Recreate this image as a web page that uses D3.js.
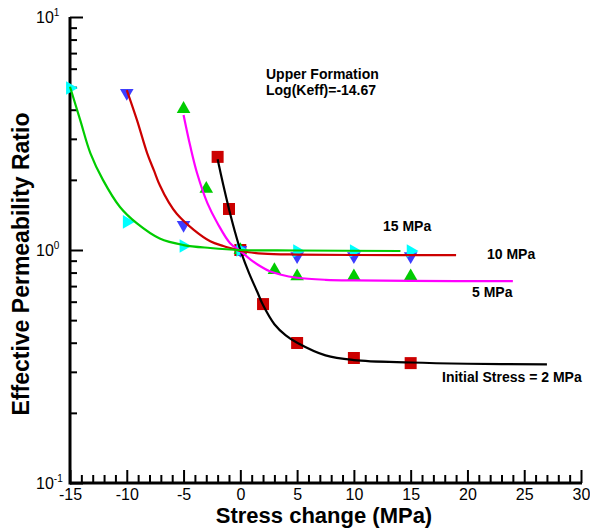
<!DOCTYPE html>
<html>
<head>
<meta charset="utf-8">
<script src="https://cdn.jsdelivr.net/npm/d3@7"></script>
<style>
  body { margin: 0; background: #fff; }
  svg { font-family: "Liberation Sans", Arial, sans-serif; }
  .lbl { font-weight: bold; font-size: 14px; }
  .title { font-weight: bold; font-size: 22px; }
  .tick-label { font-size: 16px; }
</style>
</head>
<body>
<svg width="590" height="529"></svg>
<script>
// tick values
const xTicks = [-15, -10, -5, 0, 5, 10, 15, 20, 25, 30];
const yMajor = [0.1, 1, 10];
const yLabels = ["-1", "0", "1"];

// symbols (stress change, permeability ratio)
const p2X = [-2, -1, 0, 2, 5, 10, 15];
const p2Y = [2.51, 1.5, 1.0, 0.586, 0.399, 0.344, 0.327];
const p5X = [-5, -3, 0, 3, 5, 10, 15];
const p5Y = [4.03, 1.83, 1.0, 0.82, 0.77, 0.77, 0.77];
const p10X = [-10, -5, 0, 5, 10, 15];
const p10Y = [4.72, 1.28, 1.0, 0.94, 0.94, 0.94];
const p15X = [-15, -10, -5, 0, 5, 10, 15];
const p15Y = [4.96, 1.32, 1.04, 1.0, 0.99, 0.99, 0.99];

// fitted curves, points
const c2X = [-2, -1.5, -1, -0.5, 0, 0.75, 1.5, 2, 3, 4, 5, 7.5, 10, 15, 20, 27];
const c2Y = [2.45, 1.9, 1.5, 1.21, 1.0, 0.8, 0.66, 0.58, 0.48, 0.43, 0.4, 0.353, 0.337, 0.329, 0.325, 0.323];
const c5X = [-5, -4.4, -3.8, -2.9, -2, -0.9, 0, 0.9, 1.8, 2.6, 3.5, 5, 7.5, 10, 15, 24];
const c5Y = [3.8, 2.78, 2.13, 1.59, 1.3, 1.07, 0.99, 0.91, 0.85, 0.81, 0.785, 0.76, 0.745, 0.74, 0.737, 0.735];
const c10X = [-10, -9.1, -8.2, -7.6, -7.1, -6.3, -5.6, -4.1, -2.65, -1.5, -0.6, 0, 2, 5, 10, 19];
const c10Y = [4.86, 3.61, 2.6, 2.19, 1.9, 1.6, 1.43, 1.22, 1.09, 1.04, 1.01, 0.99, 0.965, 0.956, 0.952, 0.95];
const c15X = [-15, -14.1, -13.2, -12.1, -10.6, -9.1, -7.1, -5, -2.65, 0, 5, 14.1];
const c15Y = [5.02, 3.61, 2.6, 2.0, 1.53, 1.3, 1.12, 1.05, 1.02, 1.0, 0.995, 0.99];

const svg = d3.select("svg");

const x = d3.scaleLinear().domain([-15, 30]).range([70, 581]);
const y = d3.scaleLog().domain([0.1, 10]).range([483, 17]);

const zip = (xs, ys) => xs.map((v, i) => [v, ys[i]]);

// axes, ticks pointing inwards
const yMinor = [];
[0.1, 1].forEach((d) => { for (let k = 2; k <= 9; k++) yMinor.push(d * k); });
const xMinor = d3.range(-15, 31, 1).filter((d) => d % 5 !== 0);

const styleAxis = (g) => {
  g.attr("font-size", null).attr("font-family", null);
  g.selectAll(".tick line").attr("stroke", "#000").attr("stroke-width", 2);
  g.select(".domain").remove();
};

svg.append("g")
  .attr("transform", "translate(0,483)")
  .call(d3.axisBottom(x).tickValues(xMinor).tickSize(-8).tickFormat(""))
  .call(styleAxis);
svg.append("g")
  .attr("transform", "translate(0,483)")
  .call(d3.axisBottom(x).tickValues(xTicks).tickSize(-13).tickPadding(4).tickFormat((d) => String(d)))
  .call(styleAxis)
  .call((g) => g.selectAll("text").attr("class", "tick-label").attr("fill", "#000")
    .attr("dy", null).attr("y", 17));

svg.append("g")
  .attr("transform", "translate(70,0)")
  .call(d3.axisLeft(y).tickValues(yMinor).tickSize(-7).tickFormat(""))
  .call(styleAxis);
svg.append("g")
  .attr("transform", "translate(70,0)")
  .call(d3.axisLeft(y).tickValues(yMajor).tickSize(-13).tickFormat(""))
  .call(styleAxis);

// axis lines
svg.append("line").attr("x1", 70).attr("x2", 70).attr("y1", y(10)).attr("y2", y(0.1) + 1.5)
  .attr("stroke", "#000").attr("stroke-width", 3);
svg.append("line").attr("x1", 70).attr("x2", x(30) + 1).attr("y1", 483).attr("y2", 483)
  .attr("stroke", "#000").attr("stroke-width", 3);

// log labels with superscripts
yMajor.forEach((d, i) => {
  const t = svg.append("text").attr("class", "tick-label")
    .attr("x", 36).attr("y", y(d) + 6);
  t.append("tspan").text("10");
  t.append("tspan").attr("dy", -7).attr("font-size", 10).text(yLabels[i]);
});

// curves
const line = d3.line().x((d) => x(d[0])).y((d) => y(d[1])).curve(d3.curveCatmullRom.alpha(0.5));

// symbols
const sq = d3.symbol().type(d3.symbolSquare).size(144)();
const tri = d3.symbol().type(d3.symbolTriangle).size(80)();

const drawSym = (xs, ys, path, fill, rot) => {
  svg.append("g").selectAll("path")
    .data(zip(xs, ys))
    .join("path")
    .attr("d", path)
    .attr("fill", fill)
    .attr("transform", (d) => `translate(${x(d[0])},${y(d[1])}) rotate(${rot})`);
};

drawSym(p2X, p2Y, sq, "#cc0000", 0);
drawSym(p5X, p5Y, tri, "#00cc00", 0);
drawSym(p10X, p10Y, tri, "#3d3dff", 180);
drawSym(p15X, p15Y, tri, "#00ffff", 90);

const curves = [
  [c2X, c2Y, "#000000"],
  [c5X, c5Y, "#ff00ff"],
  [c10X, c10Y, "#cc0000"],
  [c15X, c15Y, "#00cc00"],
];
curves.forEach(([xs, ys, col]) => {
  svg.append("path")
    .datum(zip(xs, ys))
    .attr("fill", "none")
    .attr("stroke", col)
    .attr("stroke-width", 2.2)
    .attr("d", line);
});

// annotations
const notes = [
  ["Upper Formation", 266, 79],
  ["Log(Keff)=-14.67", 266, 95],
  ["15 MPa", 383, 231],
  ["10 MPa", 487, 259],
  ["5 MPa", 472, 297],
  ["Initial Stress = 2 MPa", 442, 382],
];
svg.append("g").selectAll("text")
  .data(notes)
  .join("text")
  .attr("class", "lbl")
  .attr("x", (d) => d[1])
  .attr("y", (d) => d[2])
  .text((d) => d[0]);

// axis titles
svg.append("text").attr("class", "title")
  .attr("x", 324).attr("y", 523).attr("text-anchor", "middle")
  .text("Stress change (MPa)");
svg.append("text").attr("class", "title")
  .attr("transform", "translate(29,264) rotate(-90)")
  .attr("text-anchor", "middle")
  .style("font-size", "23px")
  .text("Effective Permeability Ratio");
</script>
</body>
</html>
